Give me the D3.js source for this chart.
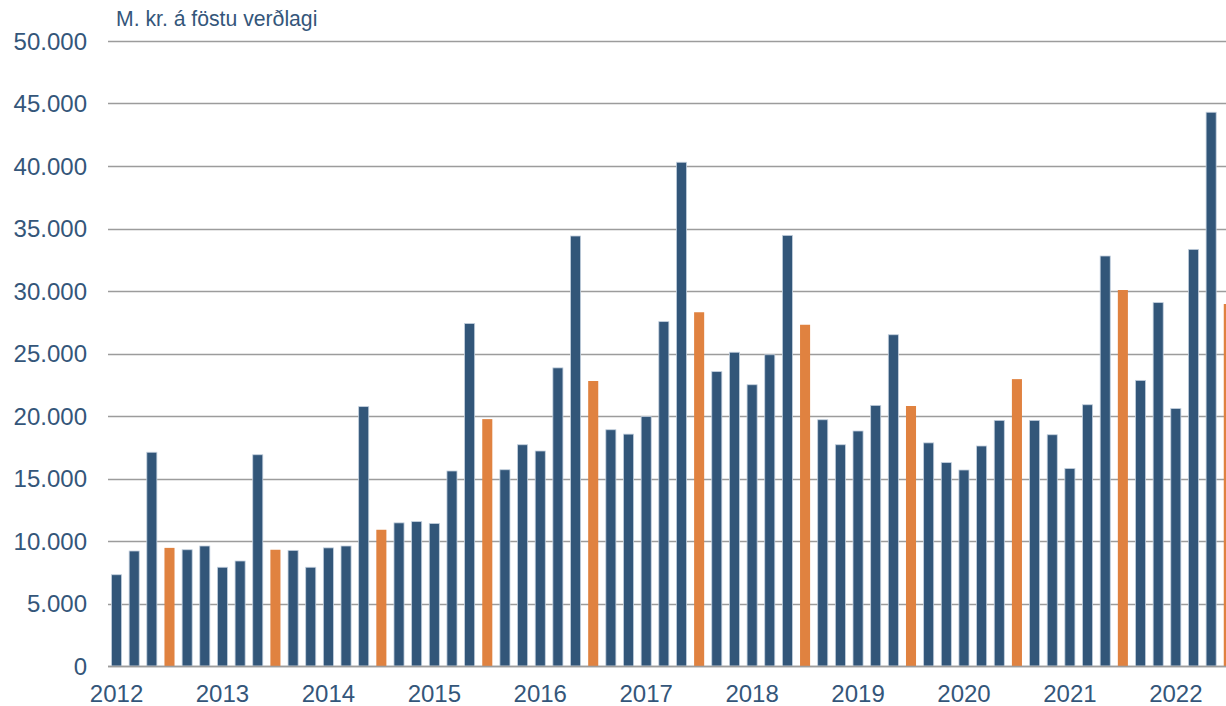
<!DOCTYPE html>
<html>
<head>
<meta charset="utf-8">
<script src="https://cdn.jsdelivr.net/npm/d3@7"></script>
<style>
  html, body { margin: 0; padding: 0; background: #ffffff; }
  svg { display: block; font-family: "Liberation Sans", Arial, sans-serif; }
</style>
</head>
<body>
<svg id="chart" width="1226" height="706"></svg>
<script>
// ---- Data ----
const years = [2012, 2013, 2014, 2015, 2016, 2017, 2018, 2019, 2020, 2021, 2022];
const periods = ["jan-feb", "mar-apr", "maí-jún", "júl-ágú", "sep-okt", "nóv-des"];
const highlightPeriod = "júl-ágú";
const values = [
  7300, 9200, 17100, 9450, 9300, 9600,      // 2012
  7900, 8400, 16900, 9300, 9250, 7900,      // 2013
  9450, 9600, 20750, 10900, 11450, 11550,   // 2014
  11400, 15600, 27400, 19750, 15700, 17700, // 2015
  17200, 23850, 34400, 22800, 18900, 18550, // 2016
  19950, 27550, 40300, 28300, 23550, 25100, // 2017
  22500, 24900, 34450, 27300, 19700, 17700, // 2018
  18800, 20850, 26500, 20800, 17850, 16270, // 2019
  15680, 17600, 19650, 22950, 19650, 18500, // 2020
  15800, 20900, 32800, 30080, 22850, 29070, // 2021
  20600, 33330, 44300, 28960                // 2022
];
const yTicks = [0, 5000, 10000, 15000, 20000, 25000, 30000, 35000, 40000, 45000, 50000];
const yTitle = "M. kr. á föstu verðlagi";

const categories = values.map((v, i) => years[Math.floor(i / periods.length)] + " " + periods[i % periods.length]);
const data = values.map((v, i) => ({ key: categories[i], period: periods[i % periods.length], year: years[Math.floor(i / periods.length)], value: v }));

// ---- Layout ----
const svg = d3.select("#chart");
const plotLeft = 108, plotTop = 41, plotBottom = 666;
const step = 17.655;
const x = d3.scaleBand()
  .domain(categories)
  .range([plotLeft - 0.3, plotLeft - 0.3 + categories.length * step])
  .paddingInner(0.43)
  .paddingOuter(0.215);
const y = d3.scaleLinear().domain([0, 50000]).range([plotBottom, plotTop]);

const loc = d3.formatLocale({ decimal: ",", thousands: ".", grouping: [3], currency: ["", " kr."] });
const fmt = loc.format(",d");

const textColor = "#34567a";
const blue = "#325679";
const orange = "#e08240";

// gridlines
svg.append("g")
  .selectAll("line")
  .data(yTicks)
  .join("line")
  .attr("x1", plotLeft)
  .attr("x2", 1226)
  .attr("y1", d => Math.round(y(d)) + 0.5)
  .attr("y2", d => Math.round(y(d)) + 0.5)
  .attr("stroke", "#9c9c9c")
  .attr("stroke-width", 1.4);

// y axis labels
const yAxis = d3.axisLeft(y).tickValues(yTicks).tickFormat(fmt).tickSize(0).tickPadding(0);
const gy = svg.append("g").attr("transform", "translate(87,0)").call(yAxis);
gy.select(".domain").remove();
gy.selectAll("text")
  .attr("fill", textColor)
  .style("font-size", "24px")
  .style("font-family", "'Liberation Sans', Arial, sans-serif")
  .attr("dy", "0.35em");

// bars
svg.append("g")
  .selectAll("rect")
  .data(data)
  .join("rect")
  .attr("x", d => x(d.key))
  .attr("width", x.bandwidth())
  .attr("y", d => y(d.value))
  .attr("height", d => y(0) - y(d.value))
  .attr("fill", d => d.period === highlightPeriod ? orange : blue)
  .attr("stroke", d => d.period === highlightPeriod ? "none" : "#c3d0de")
  .attr("stroke-width", 0.8);

// baseline
svg.append("line")
  .attr("x1", plotLeft).attr("x2", 1226)
  .attr("y1", Math.round(y(0)) + 0.5).attr("y2", Math.round(y(0)) + 0.5)
  .attr("stroke", "#9c9c9c").attr("stroke-width", 1.6);

// x axis year labels
const firstOfYear = data.filter(d => d.period === periods[0]).map(d => d.key);
const xAxis = d3.axisBottom(x).tickValues(firstOfYear).tickFormat(k => k.split(" ")[0]).tickSize(0).tickPadding(0);
const gx = svg.append("g").attr("transform", "translate(0,702)").call(xAxis);
gx.select(".domain").remove();
gx.selectAll("text")
  .attr("fill", textColor)
  .attr("dy", 0)
  .attr("y", 0)
  .style("font-size", "24px")
  .style("font-family", "'Liberation Sans', Arial, sans-serif");

// title
svg.append("text")
  .attr("x", 116)
  .attr("y", 26)
  .attr("fill", textColor)
  .style("font-size", "21.2px")
  .text(yTitle);
</script>
</body>
</html>
